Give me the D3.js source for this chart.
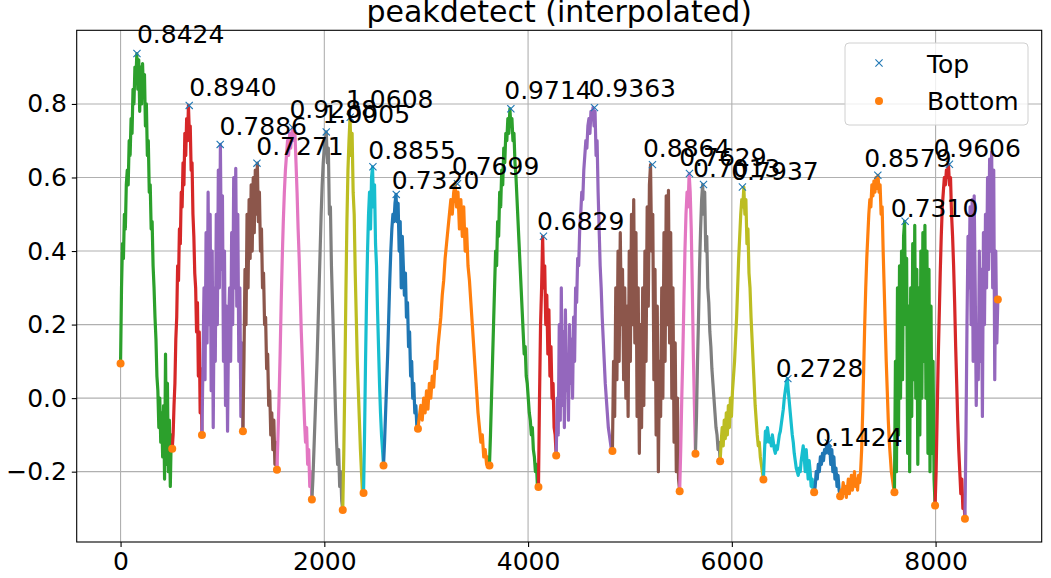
<!DOCTYPE html>
<html><head><meta charset="utf-8">
<script src="https://cdn.jsdelivr.net/npm/d3@7"></script>
<style>
body{margin:0;background:#fff;}
svg text{font-family:"DejaVu Sans",sans-serif;}
</style>
</head><body>
<svg id="c" width="1051" height="578"></svg>
<script>
// ---------- data ----------
const bottomX = [0, 507, 799, 1201, 1535, 1878, 2181, 2385, 2581, 2919, 3621, 4102, 4276, 4828, 5488, 5643, 5885, 6310, 6808, 7063, 7596, 7995, 8288, 8611];
const bottomY = [0.094, -0.138, -0.100, -0.090, -0.195, -0.276, -0.304, -0.258, -0.183, -0.083, -0.183, -0.242, -0.156, -0.144, -0.253, -0.151, -0.172, -0.221, -0.256, -0.267, -0.256, -0.292, -0.328, 0.268];

const topX = [161, 674, 978, 1339, 1688, 2019, 2254, 2477, 2706, 3307, 3831, 4151, 4652, 5221, 5584, 5722, 6104, 6550, 6948, 7433, 7701, 8136];
const topY = [0.937, 0.796, 0.690, 0.639, 0.736, 0.724, 0.764, 0.629, 0.554, 0.583, 0.787, 0.440, 0.790, 0.635, 0.611, 0.581, 0.574, 0.053, -0.122, 0.606, 0.481, 0.636];
const topLabels = ["0.8424","0.8940","0.7886","0.7271","0.9288","1.0005","1.0608","0.8855","0.7320","0.7699","0.9714","0.6829","0.9363","0.8864","0.7629","0.7013","0.7937","0.2728","0.1424","0.8579","0.7310","0.9606"];
// annotation anchors (data units)
const labelX = [161, 674, 971, 1332, 1658, 1983, 2213, 2432, 2663, 3252, 3766, 4087, 4593, 5127, 5483, 5619, 5994, 6432, 6818, 7299, 7561, 7979];
const labelY = [0.965, 0.821, 0.715, 0.660, 0.761, 0.749, 0.790, 0.650, 0.570, 0.606, 0.813, 0.456, 0.819, 0.657, 0.632, 0.601, 0.594, 0.057, -0.129, 0.629, 0.493, 0.656];

// signal values of each segment (bottom to bottom), evenly sampled
const seg01 = [0.094,0.30,0.42,0.38,0.50,0.46,0.58,0.62,0.58,0.70,0.66,0.76,0.72,0.84,0.80,0.90,0.86,0.937,0.84,0.92,0.78,0.90,0.80,0.91,0.82,0.88,0.74,0.80,0.66,0.70,0.56,0.58,0.46,0.48,0.36,0.30,0.22,0.16,0.06,0.02,-0.08,0.0,-0.12,-0.04,-0.16,-0.02,-0.22,0.12,-0.18,0.04,-0.20,-0.06,-0.24,-0.10,-0.138];
const seg02 = [-0.138,-0.10,-0.02,0.04,0.16,0.22,0.36,0.32,0.46,0.42,0.56,0.52,0.64,0.58,0.72,0.66,0.76,0.70,0.796,0.72,0.74,0.62,0.64,0.50,0.44,0.34,0.30,0.18,0.26,0.06,0.18,-0.04,0.08,-0.10];
const seg03 = [-0.10,0.10,0.30,0.05,0.45,0.15,0.56,0.20,0.50,0.02,0.40,-0.08,0.30,0.10,0.50,0.20,0.62,0.30,0.690,0.35,0.55,0.10,0.40,-0.02,0.25,-0.09,0.20,0.30,0.10,0.45,0.20,0.60,0.30,0.625,0.25,0.50,0.10,0.30,-0.05,0.15,-0.090];
const seg04 = [-0.090,0.10,0.35,0.20,0.50,0.30,0.54,0.38,0.58,0.40,0.60,0.45,0.62,0.50,0.639,0.48,0.56,0.40,0.46,0.30,0.34,0.20,0.22,0.08,0.12,-0.02,0.02,-0.10,-0.04,-0.14,-0.06,-0.18,-0.12,-0.195];
const seg05 = [-0.195,-0.10,0.0,0.12,0.26,0.38,0.48,0.56,0.62,0.66,0.70,0.66,0.72,0.68,0.72,0.736,0.70,0.72,0.64,0.56,0.46,0.38,0.28,0.18,0.10,0.02,-0.06,-0.12,-0.08,-0.18,-0.14,-0.24,-0.20,-0.276];
const seg06 = [-0.276,-0.22,-0.14,-0.06,0.02,0.10,0.20,0.30,0.40,0.50,0.58,0.64,0.68,0.70,0.724,0.64,0.68,0.50,0.52,0.36,0.26,0.16,0.06,-0.04,-0.12,-0.18,-0.14,-0.24,-0.20,-0.28,-0.304];
const seg07 = [-0.304,-0.15,0.05,0.28,0.48,0.62,0.70,0.764,0.66,0.72,0.56,0.50,0.34,0.22,0.10,0.02,-0.06,-0.14,-0.20,-0.26,-0.258];
const seg08 = [-0.258,-0.10,0.10,0.27,0.40,0.50,0.56,0.46,0.60,0.629,0.52,0.58,0.42,0.36,0.24,0.14,0.04,-0.04,-0.10,-0.14,-0.183];
const seg09 = [-0.183,-0.12,-0.04,0.04,0.12,0.22,0.32,0.40,0.46,0.50,0.48,0.53,0.554,0.48,0.53,0.40,0.48,0.30,0.44,0.36,0.28,0.34,0.22,0.26,0.14,0.18,0.06,0.10,0.0,0.04,-0.04,-0.02,-0.08,-0.083];
const seg10 = [-0.083,-0.05,-0.02,-0.06,0.0,-0.04,0.02,-0.03,0.04,0.0,0.06,0.03,0.10,0.08,0.14,0.18,0.22,0.28,0.32,0.38,0.42,0.46,0.50,0.54,0.50,0.56,0.583,0.52,0.56,0.46,0.54,0.44,0.52,0.40,0.46,0.36,0.32,0.26,0.20,0.14,0.08,0.02,-0.04,-0.08,-0.12,-0.10,-0.16,-0.14,-0.18,-0.16,-0.183];
const seg11 = [-0.183,-0.10,0.0,0.10,0.20,0.30,0.40,0.36,0.48,0.44,0.56,0.52,0.62,0.58,0.68,0.64,0.72,0.70,0.76,0.72,0.787,0.74,0.76,0.70,0.72,0.64,0.60,0.54,0.48,0.42,0.36,0.30,0.24,0.18,0.12,0.14,0.06,0.04,0.0,-0.04,-0.06,-0.10,-0.08,-0.14,-0.16,-0.20,-0.18,-0.24,-0.242];
const seg12 = [-0.242,0.0,0.20,0.30,0.44,0.30,0.36,0.20,0.28,0.12,0.24,0.06,0.14,0.0,0.04,-0.08,-0.10,-0.156];
const seg13 = [-0.156,0.0,-0.10,0.20,-0.06,0.30,-0.02,0.18,-0.08,0.24,0.02,0.12,-0.06,0.20,0.04,0.16,0.0,0.22,0.10,0.30,0.26,0.38,0.36,0.46,0.50,0.56,0.54,0.62,0.66,0.70,0.68,0.74,0.76,0.72,0.78,0.76,0.790,0.74,0.78,0.66,0.70,0.56,0.46,0.36,0.30,0.22,0.16,0.10,0.04,0.0,-0.04,-0.08,-0.10,-0.12,-0.14,-0.144];
const seg14 = [-0.144,0.10,-0.05,0.30,0.05,0.40,0.10,0.45,0.20,0.35,0.05,0.30,0.0,0.25,-0.05,0.40,0.10,0.50,0.20,0.54,0.15,0.45,-0.05,0.30,-0.15,0.20,-0.08,0.30,-0.02,0.40,0.10,0.52,0.25,0.58,0.635,0.40,0.50,0.05,0.35,-0.10,0.25,-0.20,0.10,-0.05,0.30,0.0,0.45,0.10,0.55,0.20,0.565,0.15,0.45,0.0,0.30,-0.12,0.15,-0.20,0.0,-0.22,-0.253];
const seg15 = [-0.253,-0.14,0.0,0.12,0.26,0.40,0.50,0.56,0.52,0.611,0.56,0.46,0.30,0.12,-0.02,-0.151];
const seg16 = [-0.151,-0.05,0.10,0.22,0.36,0.46,0.54,0.581,0.50,0.56,0.40,0.44,0.30,0.26,0.18,0.14,0.08,0.04,0.0,-0.04,-0.08,-0.10,-0.14,-0.12,-0.172];
const seg17 = [-0.172,-0.12,-0.08,-0.13,-0.06,-0.11,-0.04,-0.10,-0.02,-0.08,0.0,-0.05,0.02,0.06,0.10,0.16,0.22,0.30,0.38,0.44,0.50,0.54,0.52,0.574,0.50,0.54,0.42,0.46,0.34,0.30,0.22,0.16,0.10,0.04,-0.02,-0.06,-0.10,-0.13,-0.12,-0.16,-0.18,-0.20,-0.221];
const seg18 = [-0.221,-0.15,-0.09,-0.12,-0.08,-0.10,-0.12,-0.11,-0.13,-0.10,-0.12,-0.14,-0.15,-0.13,-0.14,-0.12,-0.10,-0.09,-0.07,-0.05,-0.03,0.0,0.02,0.04,0.053,0.02,-0.01,-0.04,-0.07,-0.10,-0.12,-0.15,-0.17,-0.19,-0.20,-0.21,-0.19,-0.20,-0.17,-0.15,-0.13,-0.16,-0.20,-0.14,-0.18,-0.22,-0.17,-0.20,-0.24,-0.22,-0.25,-0.256];
const seg19 = [-0.256,-0.24,-0.20,-0.22,-0.18,-0.20,-0.16,-0.18,-0.15,-0.17,-0.14,-0.15,-0.13,-0.122,-0.15,-0.13,-0.18,-0.14,-0.20,-0.16,-0.22,-0.19,-0.24,-0.21,-0.25,-0.267];
const seg20 = [-0.267,-0.25,-0.26,-0.23,-0.26,-0.24,-0.27,-0.25,-0.22,-0.26,-0.24,-0.21,-0.25,-0.23,-0.20,-0.24,-0.22,-0.25,-0.21,-0.23,-0.20,-0.14,-0.04,0.08,0.20,0.30,0.38,0.44,0.50,0.54,0.52,0.58,0.55,0.59,0.56,0.60,0.57,0.606,0.56,0.58,0.50,0.52,0.40,0.30,0.20,0.10,0.02,-0.06,-0.12,-0.16,-0.20,-0.22,-0.24,-0.256];
const seg21 = [-0.256,0.10,-0.20,0.30,-0.10,0.36,0.0,0.40,0.05,0.44,0.481,0.20,0.38,-0.15,0.25,-0.20,0.30,-0.05,0.42,0.05,0.47,0.0,0.35,-0.18,0.30,-0.10,0.40,0.0,0.45,0.10,0.47,0.0,0.40,-0.15,0.35,-0.20,0.25,-0.15,0.10,-0.22,-0.292];
const seg22 = [-0.292,-0.20,-0.05,0.10,0.22,0.34,0.44,0.52,0.56,0.60,0.58,0.62,0.60,0.636,0.58,0.60,0.50,0.44,0.36,0.26,0.14,0.04,-0.06,-0.14,-0.20,-0.26,-0.22,-0.30,-0.28,-0.328];
const seg23 = [-0.328,-0.10,0.20,0.44,0.30,0.52,0.20,0.54,0.10,0.55,0.30,-0.02,0.20,0.05,0.40,0.10,0.35,-0.05,0.45,0.20,0.50,0.30,0.60,0.35,0.65,0.40,0.67,0.30,0.62,0.05,0.40,0.15,0.268];
const segments = [seg01,seg02,seg03,seg04,seg05,seg06,seg07,seg08,seg09,seg10,seg11,seg12,seg13,seg14,seg15,seg16,seg17,seg18,seg19,seg20,seg21,seg22,seg23];

const xTicks = [0, 2000, 4000, 6000, 8000];
const yTicks = [-0.2, 0.0, 0.2, 0.4, 0.6, 0.8];
const titleText = "peakdetect (interpolated)";
const legendNames = ["Top", "Bottom"];

// ---------- layout ----------
const M = {l: 76.7, r: 1041.7, t: 30.3, b: 542};
const FS = 25;
const svg = d3.select("#c");

const xMin = d3.min(bottomX), xMax = d3.max(bottomX);
const allY = segments.flat();
const yMin = d3.min(allY), yMax = d3.max(allY);
const xPad = (xMax - xMin) * 0.05, yPad = (yMax - yMin) * 0.05;
const x = d3.scaleLinear().domain([xMin - xPad, xMax + xPad]).range([M.l, M.r]);
const y = d3.scaleLinear().domain([yMin - yPad, yMax + yPad]).range([M.b, M.t]);

const colors = d3.schemeCategory10;

// grid
const grid = svg.append("g").attr("stroke", "#b0b0b0").attr("stroke-width", 1.1);
xTicks.forEach(v => grid.append("line").attr("x1", x(v)).attr("x2", x(v)).attr("y1", M.t).attr("y2", M.b));
yTicks.forEach(v => grid.append("line").attr("x1", M.l).attr("x2", M.r).attr("y1", y(v)).attr("y2", y(v)));

// segments
svg.append("clipPath").attr("id", "pa").append("rect")
  .attr("x", M.l).attr("y", M.t).attr("width", M.r - M.l).attr("height", M.b - M.t);
const line = d3.line().x(d => x(d[0])).y(d => y(d[1]));
const gl = svg.append("g").attr("clip-path", "url(#pa)");
segments.forEach((vals, i) => {
  const x0 = bottomX[i], x1 = bottomX[i + 1], n = vals.length;
  const pts = vals.map((v, j) => [x0 + (x1 - x0) * j / (n - 1), v]);
  gl.append("path").datum(pts).attr("d", line)
    .attr("fill", "none").attr("stroke", colors[(i + 2) % 10])
    .attr("stroke-width", 3.2).attr("stroke-linejoin", "round");
});

// markers
const xs = 3.6;
const gm = svg.append("g");
topX.forEach((v, i) => {
  const cx = x(v), cy = y(topY[i]);
  gm.append("path").attr("d", `M${cx-xs},${cy-xs}L${cx+xs},${cy+xs}M${cx-xs},${cy+xs}L${cx+xs},${cy-xs}`)
    .attr("stroke", colors[0]).attr("stroke-width", 1.1).attr("fill", "none");
});
bottomX.forEach((v, i) => {
  gm.append("circle").attr("cx", x(v)).attr("cy", y(bottomY[i])).attr("r", 4).attr("fill", colors[1]);
});

// labels
const gt = svg.append("g").attr("font-size", FS).attr("fill", "#000");
topLabels.forEach((t, i) => {
  gt.append("text").attr("x", x(labelX[i])).attr("y", y(labelY[i])).text(t);
});

// axes
const ax = svg.append("g").attr("transform", `translate(0,${M.b})`)
  .call(d3.axisBottom(x).tickValues(xTicks).tickSize(4.9).tickPadding(4.9).tickFormat(d3.format("d")));
const ay = svg.append("g").attr("transform", `translate(${M.l},0)`)
  .call(d3.axisLeft(y).tickValues(yTicks).tickSize(4.9).tickPadding(4.9).tickFormat(d3.format(".1f")));
[ax, ay].forEach(g => {
  g.select(".domain").remove();
  g.selectAll("text").attr("font-size", FS).attr("fill", "#000").attr("font-family", "DejaVu Sans");
  g.selectAll("line").attr("stroke", "#000").attr("stroke-width", 1.1);
});

// spines
svg.append("rect").attr("x", M.l).attr("y", M.t).attr("width", M.r - M.l).attr("height", M.b - M.t)
  .attr("fill", "none").attr("stroke", "#000").attr("stroke-width", 1.1);

// title
svg.append("text").attr("x", (M.l + M.r) / 2).attr("y", 22).attr("text-anchor", "middle")
  .attr("font-size", 30).attr("fill", "#000").text(titleText);

// legend
const lg = svg.append("g");
lg.append("rect").attr("x", 845).attr("y", 43).attr("width", 183).attr("height", 82).attr("rx", 4)
  .attr("fill", "#fff").attr("fill-opacity", 0.8).attr("stroke", "#d0d0d0").attr("stroke-width", 1);
const lx = 879, ly0 = 63, ly1 = 101;
lg.append("path").attr("d", `M${lx-xs},${ly0-xs}L${lx+xs},${ly0+xs}M${lx-xs},${ly0+xs}L${lx+xs},${ly0-xs}`)
  .attr("stroke", colors[0]).attr("stroke-width", 1.1);
lg.append("circle").attr("cx", lx).attr("cy", ly1).attr("r", 4).attr("fill", colors[1]);
lg.append("text").attr("x", 927).attr("y", 73).attr("font-size", FS).attr("fill", "#000").text(legendNames[0]);
lg.append("text").attr("x", 927).attr("y", 110).attr("font-size", FS).attr("fill", "#000").text(legendNames[1]);
</script>
</body></html>
